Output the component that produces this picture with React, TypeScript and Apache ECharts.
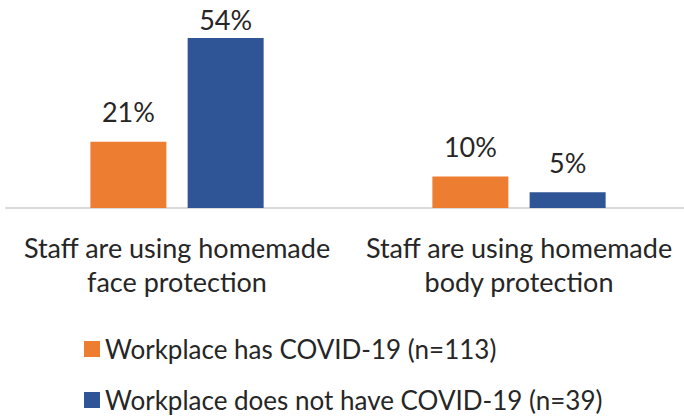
import React, { useEffect, useRef } from "react";
import * as echarts from "echarts";

const categories = [
  "Staff are using homemade\nface protection",
  "Staff are using homemade\nbody protection",
];
const seriesNames = [
  "Workplace has COVID-19 (n=113)",
  "Workplace does not have COVID-19 (n=39)",
];
const hasCovid = [21, 10];
const noCovid = [54, 5];
const colors = ["#ED7D31", "#2F5597"];

const FONT = "Lato";
const TEXT = "#262626";

export default function App() {
  const ref = useRef<HTMLDivElement>(null);
  useEffect(() => {
    if (!ref.current) return;
    const chart = echarts.init(ref.current, undefined, { renderer: "svg" });
    const labelBase = {
      show: true,
      position: "top" as const,
      distance: 16,
      fontFamily: FONT,
      fontSize: 27,
      lineHeight: 28,
      color: TEXT,
      formatter: "{c}%",
    };
    const legendText = { fontFamily: FONT, fontSize: 26, color: TEXT, lineHeight: 30 };
    chart.setOption({
      animation: false,
      backgroundColor: "#ffffff",
      textStyle: { fontFamily: FONT },
      grid: { left: 6, right: 0, top: 19, bottom: 210, containLabel: false },
      xAxis: {
        type: "category",
        data: categories,
        axisLine: { show: true, lineStyle: { color: "#D9D9D9", width: 2 } },
        axisTick: { show: false },
        axisLabel: {
          margin: 22,
          fontFamily: FONT,
          fontSize: 27,
          lineHeight: 34,
          color: TEXT,
          interval: 0,
        },
      },
      yAxis: {
        type: "value",
        min: 0,
        max: 60,
        show: false,
        splitLine: { show: false },
      },
      legend: [
        {
          left: 79,
          top: 329,
          itemWidth: 16,
          itemHeight: 16,
          itemGap: 8,
          icon: "rect",
          textStyle: legendText,
          data: [seriesNames[0]],
        },
        {
          left: 79,
          top: 380,
          itemWidth: 16,
          itemHeight: 16,
          itemGap: 8,
          icon: "rect",
          textStyle: legendText,
          data: [seriesNames[1]],
        },
      ],
      series: [
        {
          name: seriesNames[0],
          type: "bar",
          data: hasCovid,
          barWidth: 76,
          barGap: "28%",
          itemStyle: { color: colors[0] },
          label: labelBase,
        },
        {
          name: seriesNames[1],
          type: "bar",
          data: noCovid.map((v, i) =>
            i === 0 ? { value: v, label: { distance: 4 } } : v
          ),
          barWidth: 76,
          barGap: "28%",
          itemStyle: { color: colors[1] },
          label: labelBase,
        },
      ],
    });
    return () => chart.dispose();
  }, []);
  return (
    <div
      style={{
        position: "absolute",
        left: 0,
        top: 0,
        width: 684,
        height: 418,
        overflow: "hidden",
      }}
    >
      <div ref={ref} style={{ width: 690, height: 418 }} />
    </div>
  );
}
